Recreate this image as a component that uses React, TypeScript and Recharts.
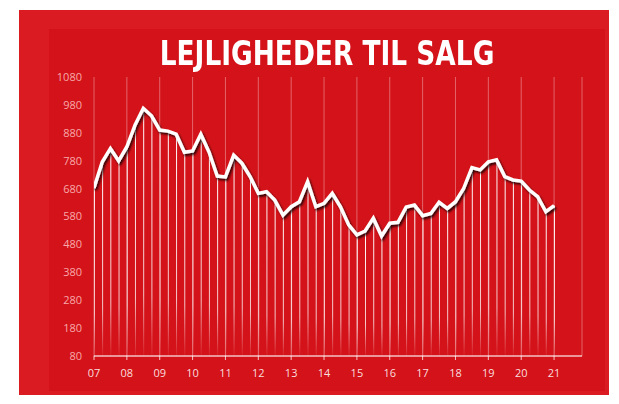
import React from "react";
import { ComposedChart, Line, Bar, XAxis, YAxis, CartesianGrid } from "recharts";

// Quarterly values 2007 Q1 – 2021 Q1
const years = ["07", "08", "09", "10", "11", "12", "13", "14", "15", "16", "17", "18", "19", "20", "21"];
const quarterValues = [
  682, 775, 824, 779,
  830, 908, 968, 941,
  890, 886, 875, 810,
  815, 875, 811, 725,
  722, 800, 771, 723,
  663, 669, 639, 585,
  615, 633, 705, 615,
  627, 663, 615, 550,
  514, 528, 574, 510,
  556, 559, 614, 621,
  583, 591, 631, 609,
  633, 681, 755, 747,
  776, 783, 723, 711,
  707, 675, 651, 597,
  619,
];
const yTicks = [80, 180, 280, 380, 480, 580, 680, 780, 880, 980, 1080];
const xTicks = years.map((y) => Number(y));

const data = quarterValues.map((v, i) => ({ t: 7 + i / 4, value: v }));

export default function App() {
  return (
    <div style={{ position: "absolute", left: 0, top: 0, width: 619, height: 404, background: "#ffffff", overflow: "hidden" }}>
      <div style={{ position: "absolute", left: 19, top: 10, width: 590, height: 385, background: "#da1c22" }} />
      <div style={{ position: "absolute", left: 49, top: 29, width: 556, height: 362, background: "#d41219" }} />
      <div
        style={{
          position: "absolute",
          left: 0,
          width: 654,
          top: 36,
          textAlign: "center",
          color: "#ffffff",
          fontFamily: "'Liberation Sans Narrow', 'DejaVu Sans Condensed', sans-serif",
          fontWeight: 700,
          fontSize: 33,
          lineHeight: "36px",
        }}
      >
        <span style={{ display: "inline-block", transform: "scaleX(0.89)", transformOrigin: "center" }}>
          LEJLIGHEDER TIL SALG
        </span>
      </div>
      <div style={{ position: "absolute", left: 0, top: 0 }}>
        <ComposedChart width={619} height={404} data={data} margin={{ top: 77, right: 37, bottom: 18, left: 54 }}>
          <defs>
            <linearGradient id="dropGrad" x1="0" y1="0" x2="0" y2="1">
              <stop offset="0%" stopColor="#ffffff" stopOpacity={1} />
              <stop offset="75%" stopColor="#ffffff" stopOpacity={0.75} />
              <stop offset="100%" stopColor="#ffffff" stopOpacity={0.05} />
            </linearGradient>
            <filter id="lineShadow" x="-10%" y="-10%" width="120%" height="130%">
              <feDropShadow dx="1.5" dy="2" stdDeviation="1" floodColor="#000000" floodOpacity="0.8" />
            </filter>
          </defs>
          <CartesianGrid horizontal={false} vertical={true} stroke="rgba(255,255,255,0.35)" strokeWidth={1} />
          <XAxis
            dataKey="t"
            type="number"
            domain={[7, 21.85]}
            ticks={xTicks}
            tickFormatter={(v: number) => years[Math.round(v) - 7]}
            axisLine={{ stroke: "rgba(255,255,255,0.75)", strokeWidth: 1.5 }}
            tickLine={{ stroke: "rgba(255,255,255,0.75)" }}
            tickSize={4}
            tickMargin={9}
            tick={{ fill: "#f9dede", fontSize: 11, fontFamily: "'Open Sans', sans-serif" }}
            height={30}
            allowDataOverflow
          />
          <YAxis
            type="number"
            domain={[80, 1080]}
            ticks={yTicks}
            axisLine={false}
            tickLine={false}
            tickMargin={6}
            tick={{ fill: "#f6a9a9", fontSize: 11, fontFamily: "'Open Sans', sans-serif" }}
            width={40}
            interval={0}
          />
          <Bar dataKey="value" barSize={1} fill="url(#dropGrad)" isAnimationActive={false} />
          <Line
            type="linear"
            dataKey="value"
            stroke="#ffffff"
            strokeWidth={3.5}
            dot={false}
            activeDot={false}
            filter="url(#lineShadow)"
            isAnimationActive={false}
          />
        </ComposedChart>
      </div>
    </div>
  );
}
